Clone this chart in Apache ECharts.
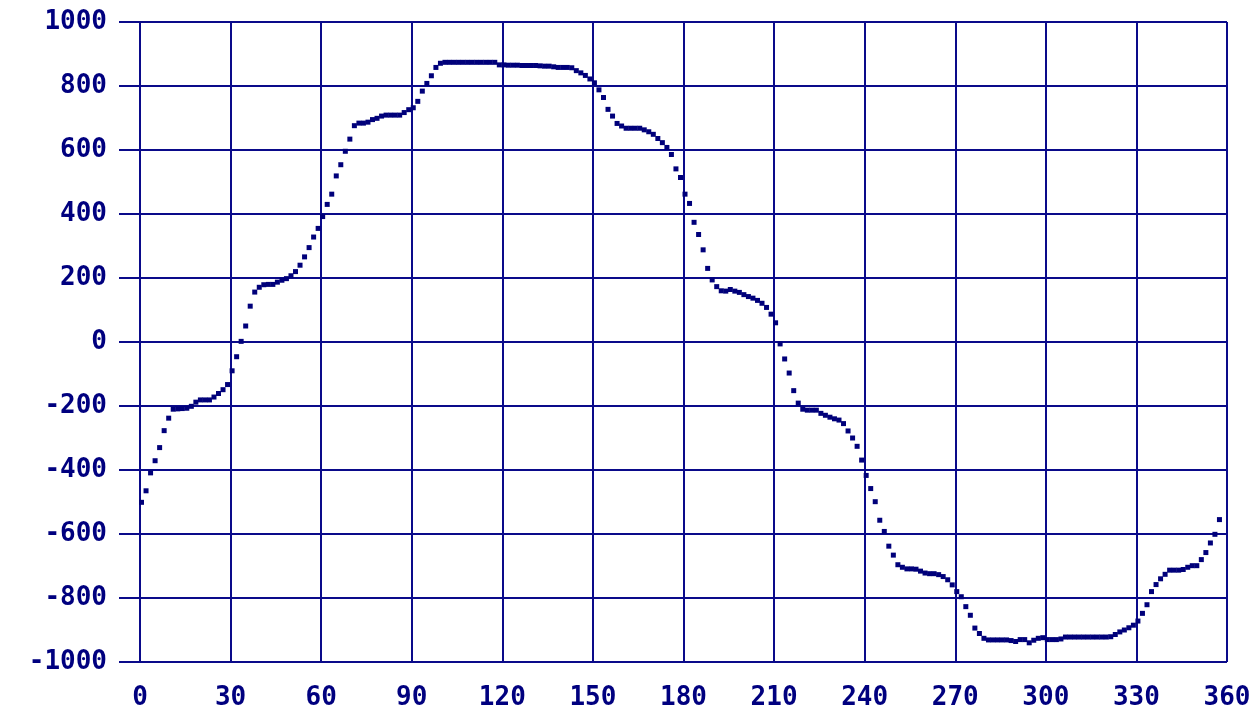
<!DOCTYPE html>
<html>
<head>
<meta charset="utf-8">
<script src="https://cdn.jsdelivr.net/npm/echarts@6/dist/echarts.min.js"></script>
<style>
  html, body { margin: 0; padding: 0; background: #fff; }
  #chartData { width: 1255px; height: 711px; }
</style>
</head>
<body>
<div id="chartData"></div>
<script>
// 角度(度) : 第一个点 0.5, 每 1.5 度一个点
var angleStart = 0.5;
var angleStep = 1.5;

// 读数
var values = [
    -501, -465, -409, -371, -330, -277, -238, -210, -209, -208,
    -207, -201, -188, -181, -181, -181, -172, -161, -149, -133,
    -90, -46, 2, 50, 112, 156, 171, 179, 180, 180,
    187, 193, 198, 207, 220, 240, 266, 295, 328, 355,
    392, 430, 462, 519, 554, 596, 634, 676, 684, 684,
    687, 695, 699, 706, 709, 709, 709, 709, 717, 726,
    732, 752, 784, 808, 832, 858, 871, 874, 874, 874,
    874, 874, 874, 874, 874, 874, 874, 874, 874, 866,
    866, 865, 865, 865, 864, 864, 864, 864, 863, 862,
    862, 860, 858, 858, 858, 857, 848, 841, 833, 822,
    810, 788, 764, 727, 706, 683, 675, 668, 668, 668,
    668, 663, 657, 649, 636, 623, 608, 586, 541, 514,
    462, 433, 374, 336, 288, 230, 194, 173, 160, 159,
    164, 159, 155, 148, 142, 137, 130, 121, 108, 87,
    60, -6, -53, -97, -152, -191, -210, -213, -213, -213,
    -223, -229, -235, -240, -244, -255, -278, -300, -326, -369,
    -417, -458, -499, -557, -592, -638, -666, -696, -704, -709,
    -709, -710, -716, -722, -724, -724, -727, -733, -743, -759,
    -780, -796, -827, -854, -894, -911, -926, -931, -931, -931,
    -931, -931, -933, -936, -930, -930, -940, -932, -926, -924,
    -930, -930, -930, -928, -922, -922, -922, -922, -922, -922,
    -922, -922, -922, -922, -921, -914, -906, -900, -893, -885,
    -872, -848, -821, -780, -758, -740, -726, -713, -713, -713,
    -711, -704, -699, -699, -680, -658, -628, -601, -555
];

var xMin = 0, xMax = 360, xInterval = 30;
var yMin = -1000, yMax = 1000, yInterval = 200;

var navy = '#0a0a8a';
var labelFont = {
    color: '#00007f',
    fontFamily: 'DejaVu Sans Mono',
    fontWeight: 'bold',
    fontSize: 26,
    formatter: function (v) { return String(v); }
};

var points = [];
for (var i = 0; i < values.length; i++) {
    points.push([angleStart + i * angleStep, values[i]]);
}

var myChart = echarts.init(document.getElementById('chartData'));

var option = {
    animation: false,
    grid: {
        left: 140,
        right: 28,
        top: 22,
        bottom: 47
    },
    xAxis: {
        type: 'value',
        min: xMin,
        max: xMax,
        interval: xInterval,
        axisLine: { show: true, lineStyle: { color: navy, width: 2 } },
        axisTick: { show: true, inside: false, length: 14, lineStyle: { color: navy, width: 2 } },
        splitLine: { show: true, lineStyle: { color: navy, width: 2 } },
        axisLabel: Object.assign({ margin: 23 }, labelFont)
    },
    yAxis: {
        type: 'value',
        min: yMin,
        max: yMax,
        interval: yInterval,
        axisLine: { show: true, lineStyle: { color: navy, width: 2 } },
        axisTick: { show: true, inside: false, length: 21, lineStyle: { color: navy, width: 2 } },
        splitLine: { show: true, lineStyle: { color: navy, width: 2 } },
        axisLabel: Object.assign({ margin: 33 }, labelFont)
    },
    series: [{
        type: 'scatter',
        symbol: 'rect',
        symbolSize: 5,
        itemStyle: { color: '#00007a', opacity: 1 },
        data: points
    }]
};

myChart.setOption(option);
</script>
</body>
</html>
